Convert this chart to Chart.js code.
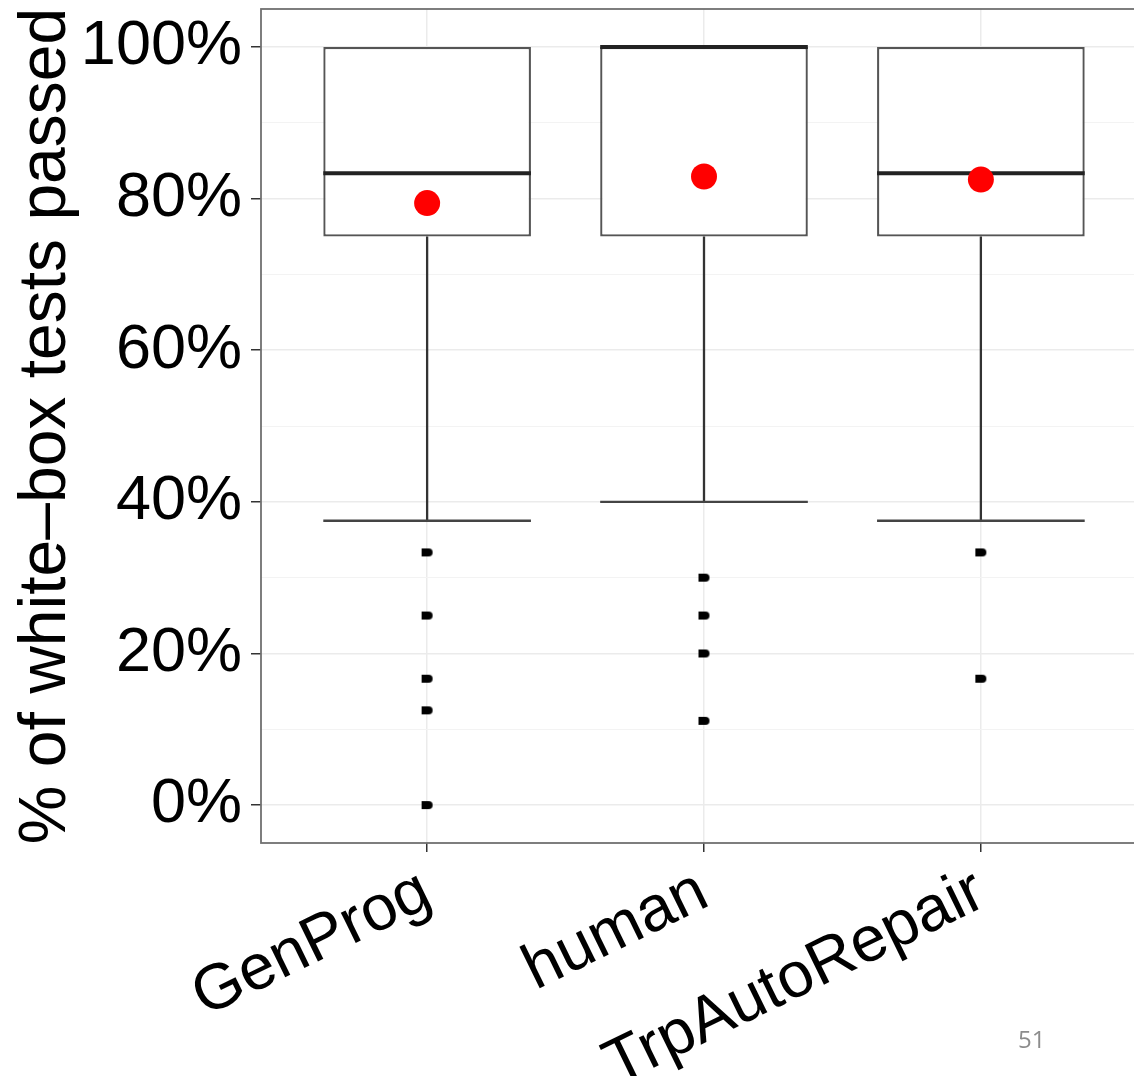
<!DOCTYPE html>
<html>
<head>
<meta charset="utf-8">
<script src="https://cdn.jsdelivr.net/npm/chart.js@4.4.1/dist/chart.umd.min.js"></script>
<style>
  html, body { margin: 0; padding: 0; background: #fff; overflow: hidden; width: 1134px; height: 1076px; }
  #wrap { position: absolute; left: 0; top: 0; width: 1134px; height: 1076px; overflow: hidden; }
  #c { position: absolute; left: 0; top: 0; }
  #page { position: absolute; left: 1018px; top: 1022px; font-family: "Open Sans", "Liberation Sans", sans-serif; font-size: 24px; color: #8c8c8c; }
</style>
</head>
<body>
<div id="wrap">
  <canvas id="c" width="1160" height="1076"></canvas>
  <div id="page">51</div>
</div>
<script>
// ---- data ----
const categories = ["GenProg", "human", "TrpAutoRepair"];
const q1Values = [75, 75, 75];
const medianValues = [83.33, 100, 83.33];
const q3Values = [100, 100, 100];
const lowerWhisker = [37.5, 40, 37.5];
const upperWhisker = [100, 100, 100];
const meanValues = [79.4, 82.9, 82.5];
const outliersGenProg = [33.33, 25, 16.67, 12.5, 0];
const outliersHuman = [30, 25, 20, 11.11];
const outliersTrp = [33.33, 16.67];
const yTickValues = [0, 10, 20, 30, 40, 50, 60, 70, 80, 90, 100];
const yTickLabels = ["0%", "", "20%", "", "40%", "", "60%", "", "80%", "", "100%"];
const yTitle = "% of white\u2013box tests passed";

const outlierSets = [outliersGenProg, outliersHuman, outliersTrp];
const BOX_FRAC = 0.75;

// outlier marker (small rounded dot)
const dot = document.createElement('canvas');
dot.width = 13; dot.height = 10;
(function(){
  const g = dot.getContext('2d');
  g.fillStyle = '#000';
  g.beginPath();
  g.moveTo(1, 1); g.lineTo(8, 1);
  g.arc(8, 5, 4, -Math.PI/2, Math.PI/2);
  g.lineTo(1, 9); g.closePath(); g.fill();
})();

const boxPlugin = {
  id: 'boxparts',
  beforeDatasetsDraw(chart) {
    const a = chart.chartArea, ctx = chart.ctx;
    ctx.save();
    ctx.strokeStyle = '#707070';
    ctx.lineWidth = 1.8;
    ctx.strokeRect(a.left, a.top, a.right - a.left, a.bottom - a.top);
    ctx.restore();
  },
  afterDatasetDraw(chart, args) {
    if (args.index !== 0) return;
    const x = chart.scales.x, y = chart.scales.y, ctx = chart.ctx;
    const unit = x.getPixelForValue(2) - x.getPixelForValue(1);
    const half = unit * BOX_FRAC / 2;
    ctx.save();
    categories.forEach((c, i) => {
      const cx = x.getPixelForValue(i + 1);
      ctx.strokeStyle = '#333333';
      ctx.lineWidth = 2.3;
      ctx.beginPath();
      ctx.moveTo(cx, y.getPixelForValue(q1Values[i]));
      ctx.lineTo(cx, y.getPixelForValue(lowerWhisker[i]));
      ctx.moveTo(cx, y.getPixelForValue(q3Values[i]));
      ctx.lineTo(cx, y.getPixelForValue(upperWhisker[i]));
      ctx.stroke();
      ctx.strokeStyle = '#444444';
      ctx.beginPath();
      const ly = y.getPixelForValue(lowerWhisker[i]);
      ctx.moveTo(cx - half, ly); ctx.lineTo(cx + half, ly);
      ctx.stroke();
      ctx.strokeStyle = '#222222';
      ctx.lineWidth = 4;
      ctx.beginPath();
      const my = y.getPixelForValue(medianValues[i]);
      ctx.moveTo(cx - half, my); ctx.lineTo(cx + half, my);
      ctx.stroke();
    });
    ctx.restore();
  }
};

const font = "'Liberation Sans', Arial, Helvetica, sans-serif";

new Chart(document.getElementById('c'), {
  type: 'bar',
  data: {
    datasets: [
      {
        type: 'bar',
        label: 'box',
        order: 3,
        data: categories.map((c, i) => ({ x: i + 1, y: [q1Values[i], q3Values[i]] })),
        backgroundColor: '#ffffff',
        borderColor: '#555555',
        borderWidth: 2.3,
        borderSkipped: false,
        categoryPercentage: 1,
        barPercentage: BOX_FRAC
      },
      {
        type: 'scatter',
        label: 'outliers',
        order: 1,
        data: outlierSets.flatMap((arr, i) => arr.map(v => ({ x: i + 1, y: v }))),
        pointStyle: dot,
        pointRadius: 5
      },
      {
        type: 'scatter',
        label: 'mean',
        order: 0,
        data: meanValues.map((v, i) => ({ x: i + 1, y: v })),
        backgroundColor: '#ff0000',
        borderColor: '#ff0000',
        borderWidth: 0,
        pointRadius: 13
      }
    ]
  },
  options: {
    responsive: false,
    animation: false,
    devicePixelRatio: 1,
    layout: { autoPadding: false, padding: { left: 0, right: 13, top: 9, bottom: 0 } },
    plugins: { legend: { display: false }, tooltip: { enabled: false } },
    scales: {
      x: {
        type: 'linear',
        offset: false,
        min: 0.4, max: 3.6,
        afterBuildTicks(s) { s.ticks = categories.map((c, i) => ({ value: i + 1 })); },
        afterFit(s) { s.height = 233; s.paddingLeft = 0; s.paddingRight = 0; },
        ticks: {
          callback: (v) => categories[Math.round(v) - 1],
          minRotation: 26, maxRotation: 26,
          autoSkip: false,
          padding: 2,
          color: '#000',
          font: { family: font, size: 64 }
        },
        grid: { offset: false, color: '#ebebeb', lineWidth: 1.5, tickColor: '#333', tickLength: 9, drawOnChartArea: true },
        border: { display: false }
      },
      y: {
        type: 'linear',
        min: -5, max: 105,
        afterBuildTicks(s) { s.ticks = yTickValues.map(v => ({ value: v })); },
        afterFit(s) { s.width = 261; s.paddingTop = 0; s.paddingBottom = 0; },
        ticks: {
          callback: (v) => yTickLabels[yTickValues.indexOf(v)],
          padding: 9,
          color: '#000',
          font: { family: font, size: 63 }
        },
        grid: {
          color: (ctx) => (ctx.tick && ctx.tick.value % 20 === 0) ? '#ebebeb' : '#f3f3f3',
          lineWidth: (ctx) => (ctx.tick && ctx.tick.value % 20 === 0) ? 1.5 : 1,
          tickColor: (ctx) => (ctx.tick && ctx.tick.value % 20 === 0) ? '#333' : 'rgba(0,0,0,0)',
          tickLength: 10
        },
        border: { display: false },
        title: {
          display: true,
          text: yTitle,
          color: '#000',
          font: { family: font, size: 66 },
          padding: { top: 7, bottom: 0 }
        }
      }
    }
  },
  plugins: [boxPlugin]
});
</script>
</body>
</html>
